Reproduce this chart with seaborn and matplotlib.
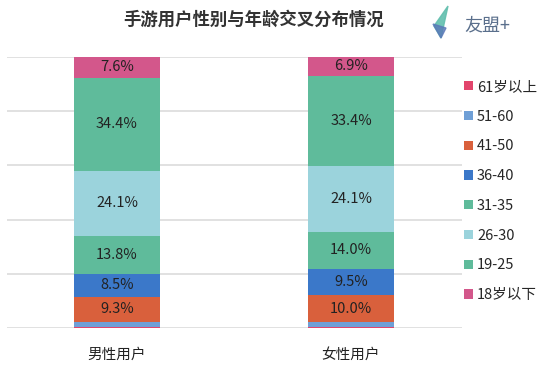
import pandas as pd
import seaborn as sns
import matplotlib.pyplot as plt
from matplotlib.patches import Polygon

# 数据：从下往上堆叠
genders = ['男性用户', '女性用户']
age_groups = ['61岁以上', '51-60', '41-50', '36-40', '31-35', '26-30', '19-25', '18岁以下']
male_vals = [0.3, 2.0, 9.3, 8.5, 13.8, 24.1, 34.4, 7.6]
female_vals = [0.3, 1.8, 10.0, 9.5, 14.0, 24.1, 33.4, 6.9]
colors = ['#e2456c', '#6f9fd6', '#d9603c', '#3b78c9', '#5fbb9b', '#9bd3dc', '#5fbb9b', '#d3578b']

sns.set_theme(style='white')
plt.rcParams['font.family'] = ['Noto Sans CJK SC', 'DejaVu Sans']

rows = []
for g, vals in zip(genders, [male_vals, female_vals]):
    for a, v in zip(age_groups, vals):
        rows.append({'gender': g, 'age': a, 'value': v})
df = pd.DataFrame(rows)

fig = plt.figure(figsize=(5.5, 3.69), dpi=100)
ax = fig.add_axes([7 / 550, 1 - 328 / 369, 455 / 550, 271 / 369])

bottom = pd.Series(0.0, index=genders)
for age, col in zip(age_groups, colors):
    sub = df[df['age'] == age].set_index('gender').loc[genders]
    sns.barplot(data=sub.reset_index(), x='gender', y='value', order=genders,
                color=col, width=0.37, bottom=bottom.values, ax=ax,
                saturation=1, label=age, linewidth=0)
    for i, g in enumerate(genders):
        v = sub.loc[g, 'value']
        if v >= 5:
            ax.text(i, bottom[g] + v / 2, f'{v:.1f}%', ha='center', va='center',
                    fontsize=10.5, color='#222222')
    bottom = bottom + sub['value']

ax.set_xlim(-0.47, 1.474)
ax.set_ylim(0, 100)
ax.set_yticks([0, 20, 40, 60, 80, 100])
ax.set_yticklabels([])
ax.yaxis.grid(True, color='#dcdcdc', linewidth=1.2)
ax.set_axisbelow(True)
for s in ax.spines.values():
    s.set_visible(False)
ax.set_xlabel('')
ax.set_ylabel('')
ax.tick_params(axis='x', length=0, labelsize=10.5, colors='#222222', pad=14)
ax.tick_params(axis='y', length=0)

h, l = ax.get_legend_handles_labels()
if ax.get_legend():
    ax.get_legend().remove()
fig.legend(h, l, loc='upper left', bbox_to_anchor=(458 / 550, 1 - 74 / 369),
           frameon=False, fontsize=10.5, handlelength=0.6, handleheight=0.6,
           handletextpad=0.3, labelspacing=1.08, borderaxespad=0)

fig.text(254 / 550, 1 - 20 / 369, '手游用户性别与年龄交叉分布情况', ha='center', va='center',
         fontsize=12.5, fontweight='bold', color='#333333')
fig.text(487 / 550, 1 - 25 / 369, '友盟+', ha='center', va='center',
         fontsize=13, color='#5a6f8c')

# 简单的叶子标志
W, H = 550, 369
leaf1 = Polygon([(448 / W, 1 - 6 / H), (434 / W, 1 - 26 / H), (441 / W, 1 - 38 / H)],
                closed=True, transform=fig.transFigure, color='#62bfae', alpha=0.9)
leaf2 = Polygon([(433 / W, 1 - 24 / H), (446 / W, 1 - 28 / H), (441 / W, 1 - 38 / H)],
                closed=True, transform=fig.transFigure, color='#5a78b8', alpha=0.8)
fig.patches.extend([leaf1, leaf2])

fig.savefig('out.png', dpi=100)
